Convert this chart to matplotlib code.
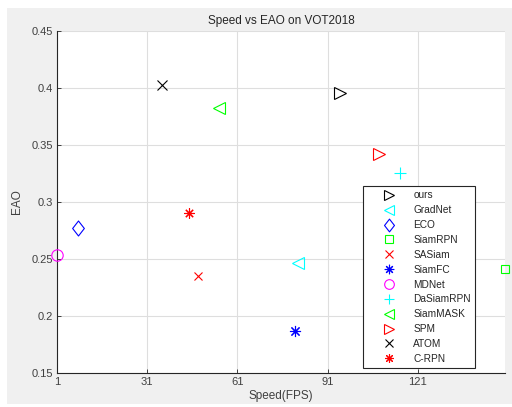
import matplotlib
matplotlib.use("Agg")
import matplotlib.pyplot as plt
from matplotlib.patches import Rectangle
from matplotlib.path import Path

# Trackers on VOT2018: speed (FPS) and expected average overlap (EAO)
trackers = ["ours", "GradNet", "ECO", "SiamRPN", "SASiam", "SiamFC",
            "MDNet", "DaSiamRPN", "SiamMASK", "SPM", "ATOM", "C-RPN"]
fps = [95, 81, 8, 150, 48, 80, 1, 115, 55, 108, 36, 45]
eao = [0.395, 0.246, 0.277, 0.241, 0.235, 0.187, 0.253, 0.325, 0.382, 0.342, 0.402, 0.290]

x_ticks = [1, 31, 61, 91, 121]
y_ticks = [0.15, 0.2, 0.25, 0.3, 0.35, 0.4, 0.45]
y_tick_labels = ["0.15", "0.2", "0.25", "0.3", "0.35", "0.4", "0.45"]

asterisk = (8, 2, 0)
diamond = Path([(0, 1), (0.78, 0), (0, -1), (-0.78, 0), (0, 1)],
               [Path.MOVETO, Path.LINETO, Path.LINETO, Path.LINETO, Path.CLOSEPOLY])

styles = [
    (">", "#000000", 9.0),
    ("<", "#00ffff", 8.4),
    (diamond, "#0000ff", 10.8),
    ("s", "#00ff00", 6.3),
    ("x", "#ff0000", 6.0),
    (asterisk, "#0000ff", 8.0),
    ("o", "#ff00ff", 8.2),
    ("+", "#00ffff", 8.6),
    ("<", "#00ff00", 8.4),
    (">", "#ff0000", 9.0),
    ("x", "#000000", 6.6),
    (asterisk, "#ff0000", 7.4),
]

plt.rcParams["font.family"] = ["Liberation Sans", "DejaVu Sans"]
text_color = "#404040"

fig = plt.figure(figsize=(5.12, 4.07), dpi=100, facecolor="white")
fig.patches.append(Rectangle((7 / 512, 3 / 407), 505 / 512, 396 / 407,
                             transform=fig.transFigure, facecolor="#f0f0f0",
                             edgecolor="none", zorder=-10))

ax = fig.add_axes([57 / 512, 34.3 / 407, 448 / 512, 342 / 407])
ax.set_facecolor("white")

for name, x, y, (m, c, s) in zip(trackers, fps, eao, styles):
    ax.plot([x], [y], linestyle="none", marker=m, markersize=s,
            markerfacecolor="none", markeredgecolor=c, markeredgewidth=0.8,
            label=name, clip_on=False, zorder=3)

ax.set_xlim(1, 150)
ax.set_ylim(0.15, 0.45)
ax.set_xticks(x_ticks)
ax.set_xticklabels([str(t) for t in x_ticks])
ax.set_yticks(y_ticks)
ax.set_yticklabels(y_tick_labels)

ax.grid(True, color="#dedede", linewidth=0.8)
ax.set_axisbelow(True)
for side in ("top", "right"):
    ax.spines[side].set_visible(False)
for side in ("left", "bottom"):
    ax.spines[side].set_color("#262626")
    ax.spines[side].set_linewidth(0.8)

ax.tick_params(direction="in", length=3, width=0.6, colors="#262626",
               labelsize=8, labelcolor=text_color, pad=3)

ax.set_title("Speed vs EAO on VOT2018", fontsize=8.5, color="#262626", pad=5)
ax.set_xlabel("Speed(FPS)", fontsize=8.5, color=text_color, labelpad=2)
ax.set_ylabel("EAO", fontsize=8.5, color=text_color, labelpad=6)

leg = ax.legend(loc="lower right", bbox_to_anchor=(0.933, 0.014), fontsize=7.3,
                numpoints=1, handlelength=4.5, handletextpad=0.1,
                labelspacing=0.48, borderpad=0.4, borderaxespad=0,
                fancybox=False, framealpha=1, edgecolor="#262626")
leg.get_frame().set_linewidth(0.8)
for t in leg.get_texts():
    t.set_color("#262626")
for h in leg.legend_handles:
    h.set_markersize(h.get_markersize() * 0.85)

fig.savefig("out.png", dpi=100, facecolor=fig.get_facecolor())
